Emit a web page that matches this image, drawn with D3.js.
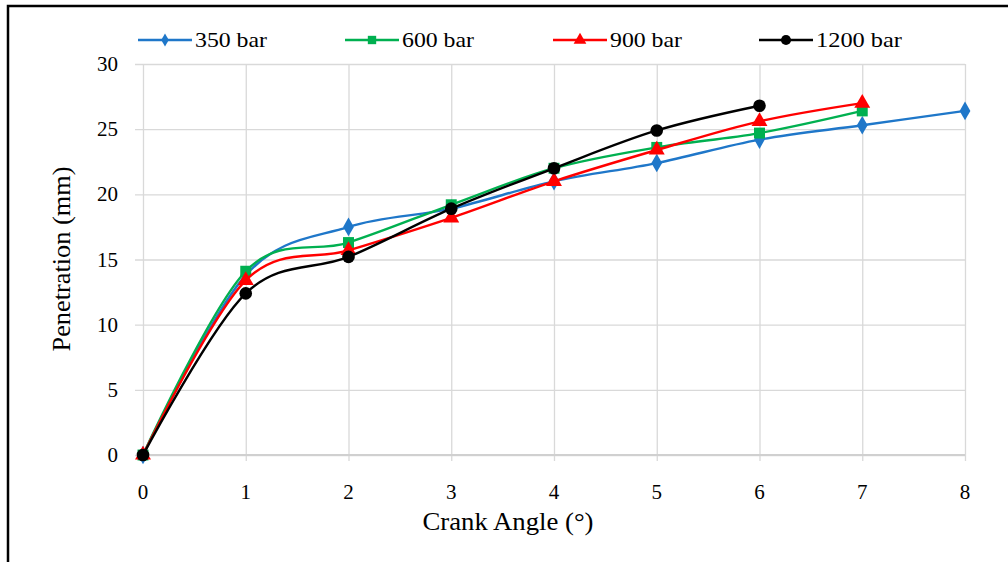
<!DOCTYPE html>
<html>
<head>
<meta charset="utf-8">
<script src="https://cdn.jsdelivr.net/npm/d3@7"></script>
<style>
  html, body { margin: 0; padding: 0; background: #fff; }
  svg text { font-family: "Liberation Serif", "Times New Roman", serif; }
</style>
</head>
<body>
<svg id="chart" width="1008" height="562"></svg>
<script>
const crankAngles = [0, 1, 2, 3, 4, 5, 6, 7, 8];
const seriesNames = ["350 bar", "600 bar", "900 bar", "1200 bar"];
const pen350  = [0, 13.8, 17.5, 18.9, 21.0, 22.4, 24.2, 25.3, 26.4];
const pen600  = [0, 14.1, 16.3, 19.2, 22.0, 23.6, 24.7, 26.4];
const pen900  = [0, 13.4, 15.7, 18.2, 21.0, 23.4, 25.6, 27.0];
const pen1200 = [0, 12.4, 15.2, 18.9, 22.0, 24.9, 26.8];
const yTicks = [0, 5, 10, 15, 20, 25, 30];
const xTicks = [0, 1, 2, 3, 4, 5, 6, 7, 8];
const xTitle = "Crank Angle (°)";
const yTitle = "Penetration (mm)";

const colors = ["#1f77c9", "#00b050", "#ff0000", "#000000"];
const symbols = [d3.symbolDiamond, d3.symbolSquare, d3.symbolTriangle, d3.symbolCircle];
const symSizes = [100, 120, 110, 125];
const legendSymSizes = [50, 70, 70, 80];
const FONT = "Liberation Serif";

const svg = d3.select("#chart");

svg.append("rect").attr("x", 8).attr("y", 6).attr("width", 1010).attr("height", 570)
  .attr("fill", "none").attr("stroke", "#000").attr("stroke-width", 2.5);

const x = d3.scaleLinear().domain([0, 8]).range([143, 965]);
const y = d3.scaleLinear().domain([0, 30]).range([455, 64]);

const grid = "#d9d9d9";
const yAxis = svg.append("g").attr("transform", "translate(965,0)")
  .call(d3.axisLeft(y).tickValues(yTicks).tickSize(965 - 135).tickFormat(""));
yAxis.select(".domain").remove();
yAxis.selectAll("line").attr("stroke", grid).attr("stroke-width", 1.3);

const xAxis = svg.append("g").attr("transform", "translate(0,461)")
  .call(d3.axisTop(x).tickValues(xTicks).tickSize(461 - 64).tickFormat(""));
xAxis.select(".domain").remove();
xAxis.selectAll("line").attr("stroke", grid).attr("stroke-width", 1.3);

svg.append("line").attr("x1", x(0)).attr("x2", x(8)).attr("y1", y(0)).attr("y2", y(0))
  .attr("stroke", "#d0d0d0").attr("stroke-width", 2);

svg.append("g").selectAll("text").data(yTicks).join("text")
  .attr("x", 118).attr("y", d => y(d) + 7)
  .attr("text-anchor", "end").attr("font-size", 21).attr("font-family", FONT).attr("fill", "#000")
  .text(d => d);

svg.append("g").selectAll("text").data(xTicks).join("text")
  .attr("x", d => x(d)).attr("y", 499)
  .attr("text-anchor", "middle").attr("font-size", 21).attr("font-family", FONT).attr("fill", "#000")
  .text(d => d);

svg.append("text").attr("x", 508).attr("y", 530).attr("text-anchor", "middle")
  .attr("font-size", 25).attr("font-family", FONT)
  .attr("textLength", 171).attr("lengthAdjust", "spacingAndGlyphs")
  .text(xTitle);
svg.append("text").attr("transform", "translate(70,259) rotate(-90)").attr("text-anchor", "middle")
  .attr("font-size", 25).attr("font-family", FONT)
  .attr("textLength", 185).attr("lengthAdjust", "spacingAndGlyphs")
  .text(yTitle);

const allSeries = [pen350, pen600, pen900, pen1200];
const line = d3.line().x((d, i) => x(crankAngles[i])).y(d => y(d)).curve(d3.curveCardinal.tension(0));

allSeries.forEach((vals, s) => {
  const g = svg.append("g");
  g.append("path").datum(vals).attr("d", line).attr("fill", "none")
    .attr("stroke", colors[s]).attr("stroke-width", 2.4);
  g.selectAll("path.m").data(vals).join("path").attr("class", "m")
    .attr("transform", (d, i) => `translate(${x(crankAngles[i])},${y(d)})`)
    .attr("d", d3.symbol().type(symbols[s]).size(symSizes[s]))
    .attr("fill", colors[s]);
});

const legendX = [138, 345, 553, 759];
const leg = svg.append("g");
seriesNames.forEach((name, s) => {
  const lx = legendX[s];
  leg.append("line").attr("x1", lx).attr("x2", lx + 54).attr("y1", 40).attr("y2", 40)
    .attr("stroke", colors[s]).attr("stroke-width", 2.4);
  leg.append("path").attr("transform", `translate(${lx + 27},40)`)
    .attr("d", d3.symbol().type(symbols[s]).size(legendSymSizes[s])).attr("fill", colors[s]);
  leg.append("text").attr("x", lx + 57).attr("y", 47).attr("font-size", 21).attr("font-family", FONT)
    .attr("textLength", name.length > 7 ? 86 : 72).attr("lengthAdjust", "spacingAndGlyphs")
    .text(name);
});
</script>
</body>
</html>
